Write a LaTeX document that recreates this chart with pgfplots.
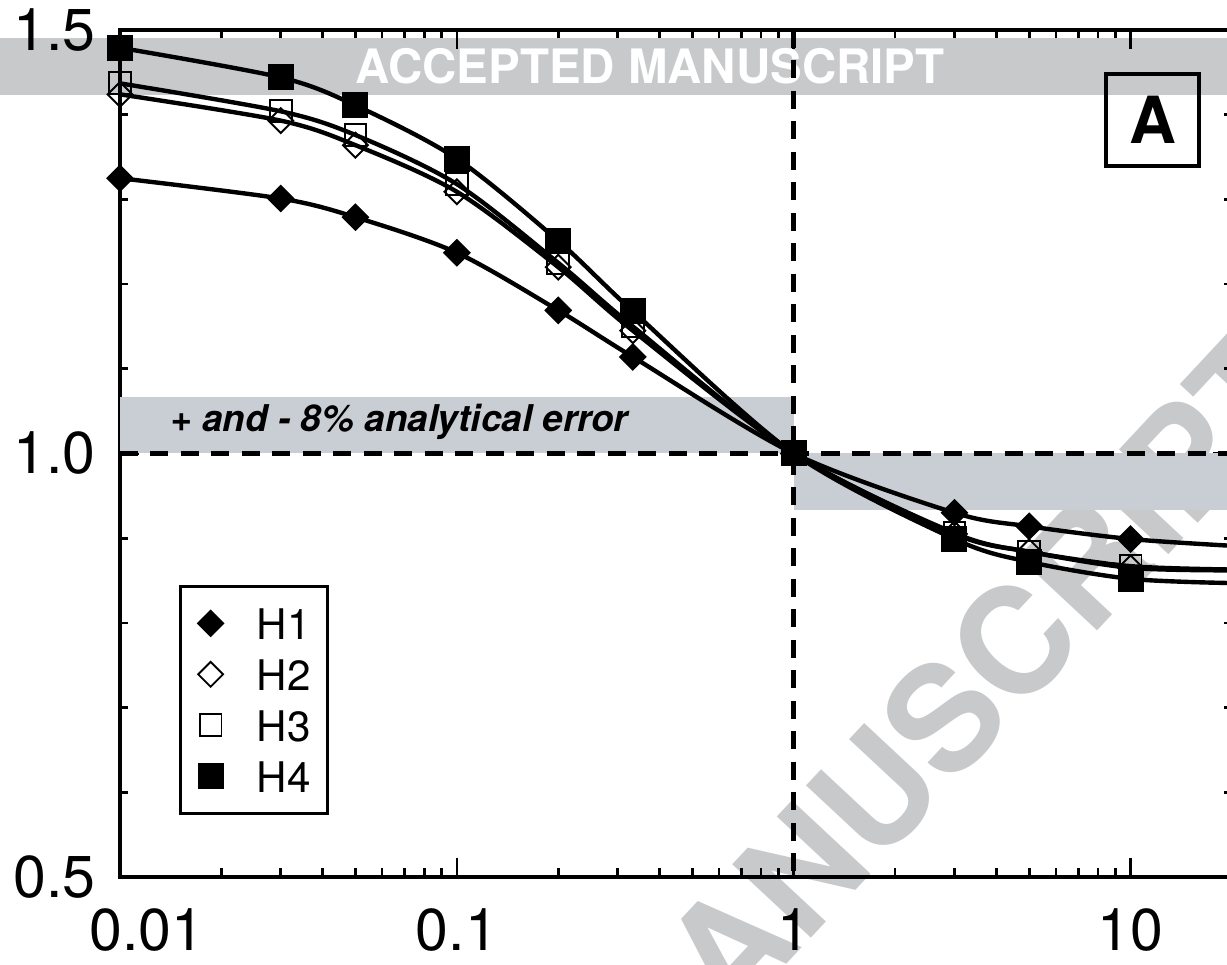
\documentclass[border=0pt]{standalone}
\usepackage{pgfplots}
\pgfplotsset{compat=1.18}
\usepackage{fontspec}
\setmainfont{TeX Gyre Heros}
\definecolor{wm}{RGB}{200,201,203}
\definecolor{band}{RGB}{201,205,212}
\begin{document}
\begin{tikzpicture}
% watermark banner and diagonal text (behind the chart)
\fill[wm] (-1.20,7.82) rectangle (11.07,8.39);
\node[text=wm!85!white, font=\fontsize{13.5}{16}\selectfont\bfseries, inner sep=0pt, text=white] at (5.30,8.11) {ACCEPTED MANUSCRIPT};
\node[text=wm, font=\fontsize{42}{46}\selectfont\bfseries, rotate=47, inner sep=0pt] at (8.66,2.05) {ANUSCRIPT};
\begin{axis}[
  at={(0,0)}, anchor=south west, scale only axis,
  width=11.12cm, height=8.47cm,
  xmode=log, xmin=0.01, xmax=20, ymin=0.5, ymax=1.5,
  xtick={0.01,0.1,1,10},
  xticklabels={\hspace*{5.4mm}0.01,0.1,1,10},
  minor xtick={0.02,0.03,0.04,0.05,0.06,0.07,0.08,0.09,0.2,0.3,0.4,0.5,0.6,0.7,0.8,0.9,2,3,4,5,6,7,8,9},
  ytick={0.5,1,1.5}, yticklabels={0.5,1.0,1.5},
  minor ytick={0.6,0.7,0.8,0.9,1.1,1.2,1.3,1.4},
  tick align=inside,
  major tick length=1.9mm, minor tick length=0.85mm,
  every tick/.style={black, line width=0.75pt},
  axis line style={line width=1.1pt},
  tick label style={font=\fontsize{16.8}{18}\selectfont},
  xticklabel style={yshift=-1.9mm},
  yticklabel style={xshift=-1.2mm},
  clip=false,
  legend cell align=left,
  legend image code/.code={\draw[#1] plot coordinates {(0pt,0pt)};},
  legend style={at={(axis description cs:0.0531,0.0732)}, anchor=south west,
    draw=black, line width=0.95pt, fill=white,
    inner xsep=1.7mm, inner ysep=2.1mm, row sep=1.9mm,
    font=\fontsize{12}{14}\selectfont,
    nodes={inner sep=0pt, text height=3.2mm, text depth=0pt},
    /tikz/every odd column/.append style={column sep=3.3mm}},
]
% analytical error bands
\fill[band] (axis cs:0.01,1) rectangle (axis cs:1,1.067);
\fill[band] (axis cs:1,0.933) rectangle (axis cs:20,1);
\draw[black, line width=1.3pt, dash pattern=on 1.8mm off 1.25mm] (axis cs:0.01,1) -- (axis cs:20,1);
\draw[black, line width=1.3pt, dash pattern=on 1.8mm off 1.25mm] (axis cs:1,1.5) -- (axis cs:1,0.5);

% curves
\addplot[black, line width=1.25pt, smooth, forget plot] coordinates {
 (0.01,1.325) (0.03,1.301) (0.05,1.279) (0.1,1.237) (0.2,1.169) (0.333,1.114) (1,1.0) (3,0.930) (5,0.914) (10,0.899) (20,0.891)};
\addplot[black, line width=1.25pt, smooth, forget plot] coordinates {
 (0.01,1.424) (0.03,1.393) (0.05,1.364) (0.1,1.309) (0.2,1.220) (0.333,1.145) (1,1.0) (3,0.905) (5,0.884) (10,0.865) (20,0.862)};
\addplot[black, line width=1.25pt, smooth, forget plot] coordinates {
 (0.01,1.437) (0.03,1.404) (0.05,1.376) (0.1,1.318) (0.2,1.225) (0.333,1.150) (1,1.0) (3,0.906) (5,0.884) (10,0.867) (20,0.863)};
\addplot[black, line width=1.25pt, smooth, forget plot] coordinates {
 (0.01,1.479) (0.03,1.444) (0.05,1.411) (0.1,1.348) (0.2,1.251) (0.333,1.168) (1,1.0) (3,0.899) (5,0.872) (10,0.852) (20,0.847)};

% markers
\addplot[only marks, mark=square*, mark size=2.6pt, mark options={rotate=45, fill=black, draw=black, line width=0.4pt}] coordinates {
 (0.01,1.325) (0.03,1.301) (0.05,1.279) (0.1,1.237) (0.2,1.169) (0.333,1.114) (1,1.0) (3,0.930) (5,0.914) (10,0.899)};
\addlegendentry{H1}
\addplot[only marks, mark=square, mark size=2.5pt, mark options={rotate=45, draw=black, line width=0.55pt}] coordinates {
 (0.01,1.424) (0.03,1.393) (0.05,1.364) (0.1,1.309) (0.2,1.220) (0.333,1.145) (1,1.0) (3,0.905) (5,0.884) (10,0.865)};
\addlegendentry{H2}
\addplot[only marks, mark=square, mark size=3.1pt, mark options={draw=black, line width=0.55pt}] coordinates {
 (0.01,1.437) (0.03,1.404) (0.05,1.376) (0.1,1.318) (0.2,1.225) (0.333,1.150) (1,1.0) (3,0.906) (5,0.884) (10,0.867)};
\addlegendentry{H3}
\addplot[only marks, mark=square*, mark size=3.5pt, mark options={fill=black, draw=black, line width=0.4pt}] coordinates {
 (0.01,1.479) (0.03,1.444) (0.05,1.411) (0.1,1.348) (0.2,1.251) (0.333,1.168) (1,1.0) (3,0.899) (5,0.872) (10,0.852)};
\addlegendentry{H4}
\end{axis}
\node[anchor=base west, font=\fontsize{10.5}{12}\selectfont\bfseries\itshape, inner sep=0pt] at (0.50,4.45) {+ and - 8\% analytical error};
\node[draw, line width=1.15pt, minimum width=9.3mm, minimum height=9.2mm, inner sep=0pt, font=\fontsize{18.5}{20}\selectfont\bfseries] at (10.325,7.57) {A};
\pgfresetboundingbox
\path[use as bounding box] (-1.20,-0.88) rectangle (11.07,8.77);
\end{tikzpicture}
\end{document}
